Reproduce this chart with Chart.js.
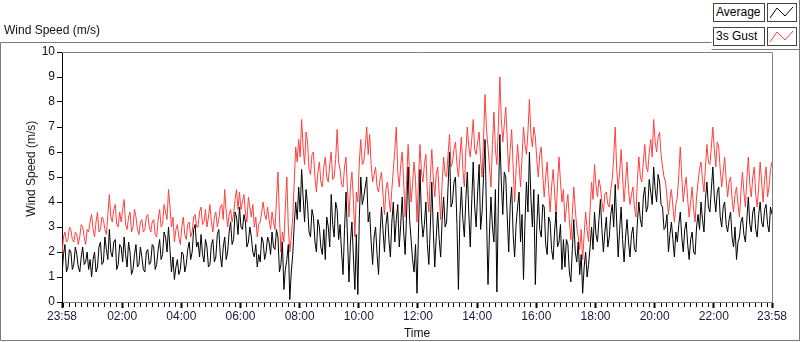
<!DOCTYPE html>
<html lang="en">
<head>
    <meta charset="UTF-8">
    <title>Wind Speed (m/s)</title>
    <script src="https://cdn.jsdelivr.net/npm/chart.js@4.4.1/dist/chart.umd.min.js"></script>
    <style>
        body { margin: 0; background: #fff; font-family: "Liberation Sans", Arial, sans-serif; }
        #wrap { position: relative; width: 800px; height: 342px; overflow: hidden; }
        #wrap canvas { position: absolute; left: 0; top: 0; }
        #caption { position: absolute; left: 4px; top: 23px; font-size: 12px; color: #111; }
        .lg-text { position: absolute; left: 713px; width: 48px; height: 17px; border: 1px solid #444;
                   font-size: 12px; line-height: 17px; padding-left: 2px; color: #000; background: #fff; }
        .lg-swatch { position: absolute; left: 767px; width: 28px; height: 17px; border: 1px solid #444; background: #fff; }
    </style>
</head>
<body>

<div id="wrap">
    <canvas id="windChart" width="800" height="342"></canvas>
    <div id="caption">Wind Speed (m/s)</div>
    <div id="legend"></div>
</div>

<script type="text/javascript">

    // one sample every 3 minutes, starting at 23:58
    var STEP_MIN = 3;

    var seriesNames = ["Average", "3s Gust"];
    var seriesColors = ["#000000", "#ff4040"];

    var avgSpeed = [
        1.1, 1.9, 2.3, 1.2, 1.4, 2.1, 2.0, 1.3, 1.5, 2.2, 1.9, 1.4, 1.2, 1.8, 2.2, 1.5, 1.6, 2.0, 1.3, 1.7,
        1.0, 1.7, 2.0, 1.2, 1.4, 2.2, 2.4, 1.5, 1.6, 2.6, 2.1, 1.7, 2.9, 2.0, 1.8, 2.4, 2.5, 1.3, 1.5, 2.3,
        2.2, 1.6, 2.6, 1.9, 1.4, 2.4, 2.0, 1.1, 1.3, 1.9, 2.3, 1.4, 1.5, 2.2, 1.8, 1.3, 1.2, 2.0, 2.1, 1.5,
        1.6, 2.3, 2.2, 1.3, 1.5, 2.1, 2.5, 1.7, 1.9, 2.8, 2.6, 2.0, 3.0, 2.1, 1.2, 1.8, 0.9, 1.4, 1.7, 1.1,
        1.3, 2.0, 1.9, 1.2, 1.5, 2.1, 2.4, 1.7, 2.0, 2.9, 3.1, 2.2, 2.4, 1.8, 2.7, 1.9, 1.6, 2.5, 2.2, 1.4,
        1.5, 2.3, 2.5, 1.6, 1.8, 2.7, 2.9, 1.9, 1.4, 2.2, 2.6, 1.7, 2.0, 2.8, 3.2, 2.3, 2.5, 3.6, 3.4, 2.7,
        3.8, 3.0, 2.9, 3.5, 3.2, 2.2, 2.4, 3.0, 2.6, 2.0, 1.8, 2.3, 1.4, 1.9, 1.6, 2.6, 2.4, 1.7, 2.0, 2.6,
        2.4, 1.9, 2.8, 2.2, 2.1, 2.9, 2.6, 1.2, 1.5, 2.4, 0.5, 1.3, 1.7, 2.3, 0.1, 1.2, 1.9, 3.1, 4.0, 3.3,
        4.6, 3.6, 5.3, 4.2, 3.2, 4.5, 3.9, 2.8, 2.6, 3.7, 3.4, 2.4, 2.0, 3.3, 3.0, 2.2, 1.9, 2.9, 1.7, 3.4,
        3.0, 2.2, 4.3, 3.1, 2.6, 4.0, 3.7, 2.5, 3.1, 2.0, 1.1, 2.9, 4.4, 2.6, 0.8, 2.4, 3.2, 1.8, 0.5, 2.7,
        0.3, 3.4, 5.0, 3.9, 4.2, 4.6, 5.0, 3.2, 3.6, 2.4, 1.5, 2.6, 3.0, 1.9, 1.1, 2.7, 3.8, 2.9, 2.0, 3.1,
        3.6, 2.5, 1.8, 3.2, 4.0, 2.4, 3.3, 3.9, 2.2, 3.1, 4.2, 2.8, 1.9, 3.6, 5.4, 3.3, 2.5, 1.7, 1.2, 2.3,
        0.35, 2.8, 5.3, 3.4, 2.6, 3.1, 4.0, 2.3, 1.5, 3.0, 4.8, 2.9, 1.4, 2.6, 3.6, 2.5, 1.8, 3.3, 4.2, 3.0,
        3.2, 4.6, 6.0, 3.8, 4.0, 4.8, 5.0, 3.1, 0.5, 3.4, 4.6, 3.3, 2.6, 4.1, 5.2, 3.6, 2.2, 4.0, 5.6, 3.8,
        3.0, 4.4, 5.5, 2.9, 3.6, 5.1, 6.5, 3.4, 0.7, 2.8, 4.2, 3.0, 2.4, 4.5, 0.4, 3.9, 6.7, 4.8, 3.5, 5.2,
        5.0, 3.4, 2.0, 3.9, 4.6, 2.7, 1.8, 3.1, 3.8, 4.4, 2.4, 3.5, 0.9, 3.2, 4.8, 3.6, 6.0, 4.2, 3.0, 4.5,
        0.7, 3.0, 4.3, 2.9, 2.6, 3.9, 3.8, 2.3, 1.9, 3.4, 3.2, 2.1, 1.7, 2.8, 3.6, 2.2, 2.4, 3.1, 1.3, 2.5,
        1.4, 2.5, 2.3, 1.2, 0.8, 2.1, 3.3, 2.0, 1.6, 2.4, 1.1, 1.9, 0.35, 1.4, 2.0, 1.0, 1.5, 2.2, 3.0, 2.1,
        3.6, 2.7, 2.4, 3.3, 4.1, 2.9, 2.0, 2.8, 3.4, 2.2, 2.6, 3.5, 3.9, 3.0, 4.7, 3.2, 1.8, 2.9, 3.8, 2.5,
        1.6, 2.6, 3.3, 2.4, 1.8, 2.7, 3.0, 2.1, 2.0, 3.2, 4.0, 3.3, 3.0, 4.2, 4.6, 3.6, 3.8, 4.9, 4.4, 3.9,
        5.4, 4.5, 4.0, 5.1, 4.8, 3.9, 3.8, 2.9, 3.0, 3.5, 2.0, 2.7, 3.2, 2.5, 1.8, 2.8, 2.4, 3.1, 3.6, 2.6,
        2.0, 2.9, 3.2, 2.3, 1.7, 2.5, 2.8, 2.0, 1.9, 3.0, 3.5, 2.9, 4.0, 3.3, 2.8, 4.1, 4.8, 3.8, 3.6, 4.5,
        5.4, 4.2, 3.6, 4.4, 4.6, 3.4, 3.0, 3.8, 4.0, 3.1, 2.8, 3.3, 3.6, 2.6, 2.2, 3.0, 1.7, 2.4, 2.6, 3.2,
        3.4, 2.7, 2.4, 3.3, 4.2, 3.1, 2.8, 3.6, 3.8, 2.9, 2.6, 3.5, 4.0, 3.2, 3.0, 3.7, 3.9, 3.1, 2.8, 3.8, 3.5
    ];

    var gustSpeed = [
        1.9, 2.6, 2.8, 2.4, 2.5, 3.0, 2.9, 2.5, 2.4, 2.8, 2.7, 2.3, 2.6, 3.1, 3.0, 2.6, 2.3, 2.9, 2.8, 3.2,
        3.5, 2.9, 2.6, 3.2, 3.6, 2.8, 2.9, 3.4, 3.3, 2.9, 2.7, 3.5, 4.3, 3.4, 3.2, 3.7, 3.9, 3.1, 3.0, 3.6,
        3.2, 3.7, 4.1, 3.1, 2.9, 3.4, 3.6, 2.8, 3.0, 3.7, 3.4, 2.9, 2.7, 3.2, 3.3, 2.8, 2.9, 3.4, 3.5, 3.0,
        2.8, 3.2, 3.3, 2.7, 2.6, 3.3, 3.7, 3.0, 3.1, 3.9, 3.6, 3.3, 4.5, 3.8, 3.0, 3.4, 2.4, 2.9, 3.1, 2.6,
        2.3, 3.0, 3.4, 2.7, 2.5, 3.1, 3.2, 2.6, 2.8, 3.4, 3.5, 3.0, 3.0, 3.6, 3.8, 3.1, 3.2, 3.7, 3.0, 3.4,
        3.9, 3.2, 2.8, 3.4, 3.6, 3.0, 3.3, 3.8, 3.9, 3.3, 4.5, 3.6, 3.0, 3.5, 3.7, 3.2, 3.5, 4.1, 4.5, 3.7,
        4.4, 3.7, 4.0, 4.3, 3.6, 3.2, 4.2, 3.8, 3.4, 3.9, 3.0, 3.4, 2.6, 3.1, 3.2, 3.6, 4.0, 3.5, 3.3, 3.8,
        3.3, 2.9, 3.6, 3.2, 2.9, 4.1, 5.2, 3.4, 2.0, 2.8, 2.4, 3.8, 5.0, 3.0, 2.0, 2.6, 3.4, 4.8, 6.2, 5.6,
        6.5, 5.8, 7.3, 6.2, 5.5, 6.8, 6.4, 5.3, 5.1, 5.9, 6.0, 5.0, 4.4, 5.2, 5.6, 4.8, 4.6, 5.4, 5.8, 5.0,
        4.8, 5.5, 6.0, 4.9, 5.0, 5.7, 6.9, 5.6, 5.3, 4.7, 4.6, 5.4, 5.8, 4.5, 3.4, 4.6, 5.2, 4.1, 2.6, 4.4,
        4.0, 5.6, 6.5, 5.5, 5.6, 6.2, 7.0, 5.9, 6.7, 5.5, 4.8, 5.1, 5.4, 4.6, 4.4, 4.9, 5.2, 4.3, 3.5, 4.5,
        4.8, 4.2, 3.6, 4.5, 5.3, 6.1, 7.0, 5.2, 4.6, 5.5, 6.0, 4.8, 3.4, 4.9, 6.3, 5.1, 4.0, 4.7, 5.6, 4.9,
        3.2, 4.9, 6.3, 5.2, 4.8, 5.5, 5.9, 4.4, 3.6, 5.0, 6.1, 5.0, 4.2, 5.1, 5.4, 4.3, 3.3, 4.8, 5.8, 5.1,
        5.0, 5.9, 6.7, 5.4, 5.6, 6.1, 6.4, 5.5, 5.0, 5.8, 6.6, 5.3, 4.6, 6.0, 7.0, 6.2, 5.8, 6.5, 7.3, 6.1,
        5.9, 6.4, 6.8, 5.7, 5.0, 6.6, 8.3, 6.9, 6.2, 5.4, 4.6, 6.3, 7.6, 6.1, 5.5, 7.0, 9.0, 7.3, 6.4, 7.1,
        7.8, 6.5, 5.2, 6.1, 6.9, 5.4, 4.0, 5.3, 6.3, 5.5, 4.6, 5.8, 7.0, 6.3, 5.9, 6.8, 8.1, 6.7, 6.2, 7.0,
        6.6, 5.7, 5.0, 5.9, 6.2, 5.1, 4.2, 5.0, 5.6, 4.5, 3.6, 4.6, 5.3, 4.4, 3.4, 4.7, 5.8, 4.8, 4.0, 4.5,
        3.2, 3.8, 4.3, 3.3, 2.5, 3.5, 4.6, 3.7, 3.0, 2.6, 2.1, 2.9, 1.7, 2.7, 3.6, 2.9, 2.4, 3.7, 4.8, 4.1,
        5.5, 4.7, 4.2, 4.9, 4.6, 4.0, 3.6, 4.3, 4.4, 3.9, 3.8, 4.5, 4.9, 5.8, 7.0, 5.3, 4.5, 5.2, 6.1, 5.0,
        4.0, 4.8, 5.6, 4.5, 3.9, 4.3, 4.6, 3.8, 3.4, 4.9, 5.8, 5.0, 4.8, 5.6, 6.3, 5.4, 5.2, 6.0, 6.5, 5.8,
        7.3, 6.4, 6.0, 6.6, 6.8, 5.9, 5.4, 5.0, 4.8, 4.2, 3.5, 4.1, 4.5, 3.8, 3.2, 3.9, 4.2, 5.1, 6.2, 5.0,
        4.0, 4.6, 5.0, 4.1, 3.4, 4.0, 4.6, 3.7, 3.2, 4.2, 4.8, 5.3, 5.6, 4.9, 4.4, 5.4, 6.3, 5.6, 5.5, 6.2,
        7.0, 6.1, 5.4, 6.4, 6.2, 5.3, 4.6, 5.2, 5.8, 4.9, 4.2, 4.8, 5.0, 4.1, 3.6, 4.3, 4.6, 3.9, 3.4, 4.4,
        5.2, 4.4, 3.8, 4.9, 5.8, 4.7, 4.2, 5.0, 5.4, 4.3, 3.8, 4.6, 5.6, 4.8, 4.0, 4.9, 5.4, 4.2, 4.6, 5.3, 5.6
    ];

    // x ticks in minutes after 23:58
    var tickMinutes = [0, 122, 242, 362, 482, 602, 722, 842, 962, 1082, 1202, 1322, 1440];
    var tickLabels = ["23:58", "02:00", "04:00", "06:00", "08:00", "10:00", "12:00",
                      "14:00", "16:00", "18:00", "20:00", "22:00", "23:58"];
    var yTicks = [0, 1, 2, 3, 4, 5, 6, 7, 8, 9, 10];

    function toPoints(arr) {
        return arr.map(function (v, i) { return {x: i * STEP_MIN, y: v}; });
    }

    // frame around the panel, box around the plot and the small minute ticks
    var decor = {
        id: "decor",
        afterDraw: function (chart) {
            var c = chart.ctx, a = chart.chartArea, xs = chart.scales.x;
            c.save();
            c.lineWidth = 1;
            c.strokeStyle = "#808080";
            c.beginPath();
            c.moveTo(a.left, a.top + 0.5); c.lineTo(a.right + 0.5, a.top + 0.5);
            c.lineTo(a.right + 0.5, a.bottom);
            c.stroke();

            c.strokeStyle = "#000";
            c.beginPath();
            for (var m = 2; m < 1440; m += 12) {
                if ((m - 2) % 120 === 0 && m !== 2) continue;
                var px = Math.round(xs.getPixelForValue(m)) + 0.5;
                c.moveTo(px, a.bottom + 1); c.lineTo(px, a.bottom + 5);
            }
            c.stroke();

            c.strokeStyle = "#7a7a7a";
            c.beginPath();
            c.moveTo(0.5, 42.5); c.lineTo(711.5, 42.5);
            c.moveTo(711.5, 49.5); c.lineTo(800, 49.5);
            c.moveTo(0.5, 42.5); c.lineTo(0.5, 340.5); c.lineTo(799.5, 340.5);
            c.moveTo(799.5, 0); c.lineTo(799.5, 341);
            c.stroke();
            c.restore();
        }
    };

    var ctx = document.getElementById("windChart");

    var chart = new Chart(ctx, {
        "type": "line",
        "data": {
            "datasets": [{
                "label": seriesNames[0],
                "data": toPoints(avgSpeed),
                "borderColor": seriesColors[0],
                "borderWidth": 1,
                "pointRadius": 0,
                "tension": 0,
                "fill": false
            }, {
                "label": seriesNames[1],
                "data": toPoints(gustSpeed),
                "borderColor": seriesColors[1],
                "borderWidth": 1,
                "pointRadius": 0,
                "tension": 0,
                "fill": false
            }]
        },
        "options": {
            "responsive": false,
            "animation": false,
            "events": [],
            "layout": {"padding": {"left": 0, "top": 52, "right": 28, "bottom": 0}},
            "plugins": {
                "legend": {"display": false},
                "tooltip": {"enabled": false}
            },
            "scales": {
                "x": {
                    "type": "linear",
                    "min": 0,
                    "max": 1440,
                    "afterBuildTicks": function (s) {
                        s.ticks = tickMinutes.map(function (m) { return {value: m}; });
                    },
                    "afterFit": function (s) { s.height = 40; },
                    "ticks": {
                        "autoSkip": false,
                        "maxRotation": 0,
                        "padding": 1,
                        "color": "#1b1b3a",
                        "font": {"family": "'Liberation Sans Narrow', 'Arial Narrow', 'Liberation Sans', sans-serif", "size": 12},
                        "callback": function (v, i) { return tickLabels[i]; }
                    },
                    "grid": {"drawOnChartArea": false, "drawTicks": true, "tickLength": 6, "tickColor": "#000", "tickWidth": 2},
                    "border": {"color": "#808080", "width": 1},
                    "title": {
                        "display": true,
                        "text": "Time",
                        "color": "#111",
                        "font": {"family": "'Liberation Sans', Arial, sans-serif", "size": 12},
                        "padding": {"top": 0, "bottom": 1}
                    }
                },
                "y": {
                    "min": 0,
                    "max": 10,
                    "afterBuildTicks": function (s) {
                        s.ticks = yTicks.map(function (v) { return {value: v}; });
                    },
                    "afterFit": function (s) { s.width = 62; },
                    "ticks": {
                        "padding": 2,
                        "color": "#111",
                        "font": {"family": "'Liberation Sans Narrow', 'Arial Narrow', 'Liberation Sans', sans-serif", "size": 12}
                    },
                    "grid": {"drawOnChartArea": false, "drawTicks": true, "tickLength": 5, "tickColor": "#000"},
                    "border": {"color": "#000", "width": 1},
                    "title": {
                        "display": true,
                        "text": "     Wind Speed (m/s)",
                        "color": "#1a1a1a",
                        "font": {"family": "'Liberation Sans', Arial, sans-serif", "size": 12},
                        "padding": {"top": 24, "bottom": 0}
                    }
                }
            }
        },
        "plugins": [decor]
    });

    // legend boxes built from the datasets
    var lg = document.getElementById("legend");
    chart.data.datasets.forEach(function (ds, i) {
        var top = 3 + i * 24;
        var t = document.createElement("div");
        t.className = "lg-text";
        t.style.top = top + "px";
        t.textContent = ds.label;
        lg.appendChild(t);
        var sw = document.createElement("div");
        sw.className = "lg-swatch";
        sw.style.top = top + "px";
        sw.innerHTML = '<svg width="28" height="17"><polyline points="2,14 9,4 17,12 25,3" fill="none" stroke="' +
            ds.borderColor + '" stroke-width="1"/></svg>';
        lg.appendChild(sw);
    });
</script>

</body>
</html>
